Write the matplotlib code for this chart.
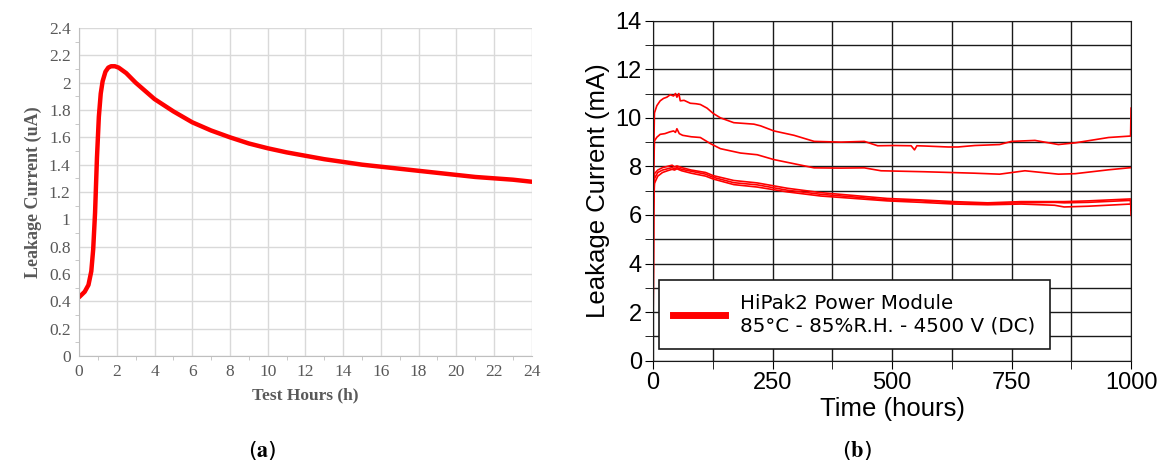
import numpy as np
import matplotlib.pyplot as plt
from matplotlib.ticker import MultipleLocator

plt.rcParams['mathtext.fontset'] = 'stix'

# (a) leakage current vs test hours
hours_a = [0, 0.15, 0.3, 0.5, 0.65, 0.75, 0.85, 0.95, 1.05, 1.15, 1.25, 1.4, 1.55, 1.7, 1.9, 2.1,
           2.5, 3, 3.5, 4, 5, 6, 7, 8, 9, 10, 11, 12, 13, 14, 15, 16, 17, 18, 19, 20, 21, 22, 23, 24]
current_a = [0.43, 0.45, 0.47, 0.52, 0.62, 0.78, 1.05, 1.45, 1.75, 1.92, 2.01, 2.08, 2.11, 2.12, 2.12, 2.11,
             2.07, 2.00, 1.94, 1.88, 1.79, 1.71, 1.65, 1.60, 1.555, 1.52, 1.49, 1.465, 1.44, 1.42, 1.40,
             1.385, 1.37, 1.355, 1.34, 1.325, 1.31, 1.30, 1.29, 1.275]

# (b) leakage current of HiPak2 modules, hours
t_top = [0, 1, 3, 8, 15, 22, 29, 36, 43, 47, 50, 54, 57, 65, 78, 90, 99, 113, 126, 141, 169, 211, 225,
         253, 295, 337, 393, 442, 470, 505, 540, 547, 552, 568, 617, 638, 673, 725, 750, 799, 848, 883,
         953, 999, 1000]
i_top = [0, 8.0, 10.2, 10.5, 10.7, 10.8, 10.85, 10.95, 10.9, 11.0, 10.85, 11.0, 10.7, 10.72, 10.6, 10.58,
         10.55, 10.4, 10.18, 10.0, 9.8, 9.74, 9.67, 9.46, 9.28, 9.03, 9.0, 9.03, 8.85, 8.86, 8.85, 8.68,
         8.85, 8.84, 8.8, 8.8, 8.86, 8.9, 9.03, 9.07, 8.9, 8.97, 9.19, 9.25, 10.4]

t_mid = [0, 1, 3, 8, 15, 25, 35, 43, 47, 50, 55, 62, 80, 99, 120, 141, 183, 218, 253, 295, 337, 393,
         442, 477, 568, 673, 725, 778, 848, 883, 953, 1000]
i_mid = [0, 7.5, 9.05, 9.2, 9.32, 9.35, 9.42, 9.46, 9.4, 9.55, 9.35, 9.28, 9.22, 9.19, 8.94, 8.73,
         8.55, 8.48, 8.28, 8.11, 7.94, 7.93, 7.94, 7.82, 7.78, 7.72, 7.68, 7.82, 7.68, 7.7, 7.86, 7.95]

t_low = [0, 1, 3, 10, 20, 30, 40, 45, 50, 60, 80, 110, 126, 169, 218, 281, 351, 421, 490, 560, 630,
         700, 770, 840, 860, 910, 999, 1000]
i_low1 = [0, 6.5, 7.7, 7.85, 7.95, 8.0, 8.05, 7.98, 8.02, 7.95, 7.85, 7.75, 7.62, 7.42, 7.32, 7.1,
          6.92, 6.8, 6.68, 6.62, 6.55, 6.5, 6.55, 6.55, 6.55, 6.58, 6.66, 6.0]
i_low2 = [0, 6.3, 7.5, 7.75, 7.85, 7.9, 7.95, 7.9, 7.95, 7.88, 7.8, 7.68, 7.55, 7.33, 7.24, 7.02,
          6.85, 6.74, 6.62, 6.58, 6.5, 6.47, 6.5, 6.52, 6.5, 6.52, 6.6, 6.2]
i_low3 = [0, 6.1, 7.3, 7.6, 7.75, 7.82, 7.88, 7.85, 7.9, 7.82, 7.72, 7.6, 7.48, 7.25, 7.15, 6.95,
          6.78, 6.68, 6.58, 6.52, 6.45, 6.42, 6.45, 6.4, 6.33, 6.36, 6.45, 6.45]

fig = plt.figure(figsize=(11.64, 4.68), dpi=100)

# ---- panel (a)
ax1 = fig.add_axes([0.0679, 0.2393, 0.389, 0.7009])
grey = '#d9d9d9'
txt = '#595959'
ax1.plot(hours_a, current_a, color='#ff0000', lw=3.2, solid_capstyle='round')
ax1.set_xlim(0, 24)
ax1.set_ylim(0, 2.4)
ax1.xaxis.set_major_locator(MultipleLocator(2))
ax1.yaxis.set_major_locator(MultipleLocator(0.2))
ax1.xaxis.set_minor_locator(MultipleLocator(1))
ax1.yaxis.set_minor_locator(MultipleLocator(0.1))
ax1.grid(True, which='major', color=grey, lw=1)
ax1.set_axisbelow(True)
for s in ['top', 'right']:
    ax1.spines[s].set_visible(False)
for s in ['left', 'bottom']:
    ax1.spines[s].set_color('#bfbfbf')
ax1.tick_params(which='major', length=0, pad=6, colors=txt, labelsize=12.5)
ax1.tick_params(which='minor', length=3, color='#bfbfbf')
ax1.set_yticks(np.arange(0, 2.41, 0.2))
ax1.set_yticklabels(['0', '0.2', '0.4', '0.6', '0.8', '1', '1.2', '1.4', '1.6', '1.8', '2', '2.2', '2.4'])
for lab in ax1.get_xticklabels() + ax1.get_yticklabels():
    lab.set_family('Liberation Serif')
ax1.set_xlabel('Test Hours (h)', family='Liberation Serif', fontweight='bold', fontsize=12.5,
               color=txt, labelpad=5)
ax1.set_ylabel('Leakage Current (uA)', family='Liberation Serif', fontweight='bold', fontsize=13,
               color=txt, labelpad=5)

# ---- panel (b)
ax2 = fig.add_axes([0.561, 0.2293, 0.4107, 0.7265])
red = '#ff0000'
for yy in [i_low3, i_low2, i_low1]:
    ax2.plot(t_low, yy, color=red, lw=1.2)
ax2.plot(t_mid, i_mid, color=red, lw=1.2)
ax2.plot(t_top, i_top, color=red, lw=1.2, label='HiPak2 Power Module\n85°C - 85%R.H. - 4500 V (DC)')
ax2.set_xlim(0, 1000)
ax2.set_ylim(0, 14)
ax2.xaxis.set_major_locator(MultipleLocator(250))
ax2.xaxis.set_minor_locator(MultipleLocator(125))
ax2.yaxis.set_major_locator(MultipleLocator(2))
ax2.yaxis.set_minor_locator(MultipleLocator(1))
ax2.grid(True, which='both', color='#1a1a1a', lw=1)
ax2.set_axisbelow(True)
for s in ax2.spines.values():
    s.set_color('#1a1a1a')
ax2.tick_params(which='major', length=6, labelsize=17, pad=2)
ax2.tick_params(which='minor', length=6)
for lab in ax2.get_xticklabels() + ax2.get_yticklabels():
    lab.set_family('Liberation Sans')
ax2.set_xlabel('Time (hours)', family='Liberation Sans', fontsize=18.5, labelpad=2)
ax2.set_ylabel('Leakage Current (mA)', family='Liberation Sans', fontsize=18.5, labelpad=4)
leg = ax2.legend(loc='lower left', bbox_to_anchor=(0.0125, 0.034), fancybox=False, framealpha=1,
                 edgecolor='#1a1a1a', prop={'family': 'DejaVu Sans', 'size': 14.3},
                 handlelength=2.6, borderpad=0.7, handletextpad=0.8, borderaxespad=0)
leg.get_frame().set_linewidth(1.2)
for h in leg.legend_handles:
    h.set_linewidth(5)

# captions
fig.text(0.225, 0.012, r'($\mathbf{a}$)', ha='center', va='bottom', fontsize=16)
fig.text(0.736, 0.012, r'($\mathbf{b}$)', ha='center', va='bottom', fontsize=16)

fig.savefig('out.png', dpi=100)
